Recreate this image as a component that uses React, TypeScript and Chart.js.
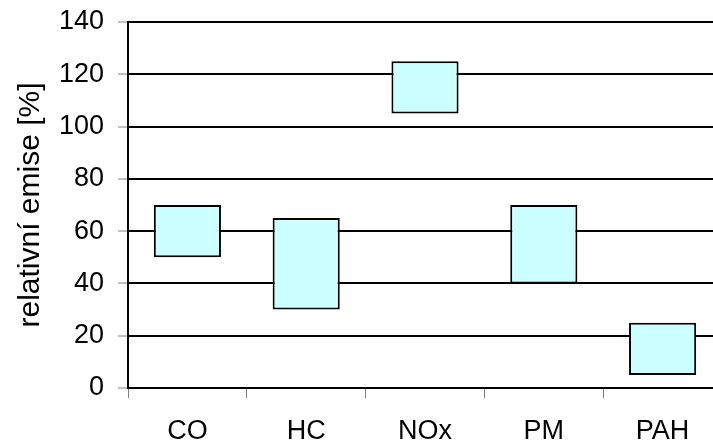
import React, { useEffect, useRef } from "react";
import { Chart, registerables } from "chart.js";

Chart.register(...registerables);

const categories = ["CO", "HC", "NOx", "PM", "PAH"];
const lowValues = [50, 30, 105, 40, 5];
const highValues = [70, 65, 125, 70, 25];
const yTitle = "relativní emise [%]";
const yMin = 0;
const yMax = 140;
const yStep = 20;

export default function App() {
  const ref = useRef<HTMLCanvasElement>(null);
  useEffect(() => {
    const canvas = ref.current!;
    const family = "'Liberation Sans', Arial, sans-serif";
    const font = { family, size: 27 };
    const chart = new Chart(canvas, {
      type: "bar",
      data: {
        labels: categories,
        datasets: [
          {
            data: categories.map((_, i) => [lowValues[i], highValues[i]]) as any,
            backgroundColor: "#CCFFFF",
            borderColor: "#000000",
            borderWidth: 2,
            borderSkipped: false,
            categoryPercentage: 1,
            barPercentage: 0.565,
          },
        ],
      },
      options: {
        responsive: false,
        animation: false,
        devicePixelRatio: 1,
        layout: { padding: { top: 22, right: 2, left: 0, bottom: 0 } },
        plugins: { legend: { display: false }, tooltip: { enabled: false } },
        scales: {
          x: {
            grid: {
              offset: true,
              drawOnChartArea: false,
              drawTicks: true,
              tickLength: 10,
              tickColor: "#808080",
              tickWidth: 1,
            },
            border: { color: "#000000", width: 2 },
            ticks: { color: "#000000", font, padding: 17, maxRotation: 0 },
            afterFit: (s: any) => {
              s.height = 55;
              s.paddingLeft = 0;
              s.paddingRight = 0;
            },
          },
          y: {
            min: yMin,
            max: yMax,
            grid: {
              color: "#000000",
              lineWidth: 2,
              drawTicks: true,
              tickLength: 10,
              tickColor: "#808080",
              tickWidth: 1,
            },
            border: { color: "#000000", width: 2 },
            ticks: { stepSize: yStep, color: "#000000", font, padding: 14 },
            title: {
              display: true,
              text: yTitle,
              color: "#000000",
              font: { family, size: 30 },
              padding: { top: 13, bottom: 0 },
            },
            afterFit: (s: any) => {
              s.width = 128;
              s.paddingTop = 0;
              s.paddingBottom = 0;
            },
          },
        },
      },
    });
    return () => chart.destroy();
  }, []);
  return (
    <div
      style={{
        position: "absolute",
        left: 0,
        top: 0,
        width: 713,
        height: 443,
        overflow: "hidden",
        background: "#fff",
      }}
    >
      <canvas ref={ref} width={724} height={443} style={{ display: "block" }} />
    </div>
  );
}
